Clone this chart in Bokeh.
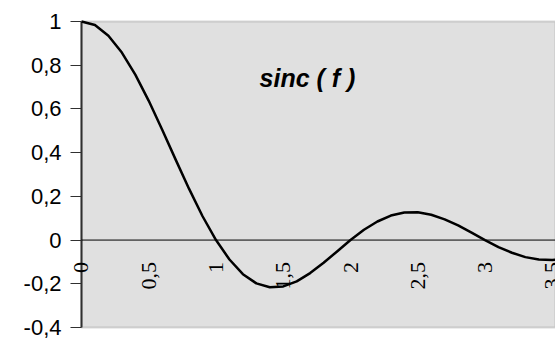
from bokeh.plotting import figure
from bokeh.models import Range1d, FixedTicker, Label, LabelSet, ColumnDataSource, BoxAnnotation
from bokeh.embed import file_html
from bokeh.resources import INLINE
import math

# sampled values of the sinc curve
f_values = [0.0, 0.1, 0.2, 0.3, 0.4, 0.5, 0.6, 0.7, 0.8, 0.9,
            1.0, 1.1, 1.2, 1.3, 1.4, 1.5, 1.6, 1.7, 1.8, 1.9,
            2.0, 2.1, 2.2, 2.3, 2.4, 2.5, 2.6, 2.7, 2.8, 2.9,
            3.0, 3.1, 3.2, 3.3, 3.4, 3.5, 3.6]
sinc_values = [1.0, 0.984, 0.935, 0.858, 0.757, 0.637, 0.505, 0.368, 0.234, 0.109,
               0.0, -0.089, -0.156, -0.198, -0.216, -0.212, -0.189, -0.151, -0.104, -0.052,
               0.0, 0.047, 0.085, 0.112, 0.126, 0.127, 0.116, 0.095, 0.067, 0.034,
               0.0, -0.032, -0.058, -0.078, -0.089, -0.091, -0.084]

x_ticks = [0, 0.5, 1, 1.5, 2, 2.5, 3, 3.5]
x_tick_labels = ["0", "0,5", "1", "1,5", "2", "2,5", "3", "3,5"]
y_ticks = [-0.4, -0.2, 0, 0.2, 0.4, 0.6, 0.8, 1]
y_tick_labels = ["-0,4", "-0,2", "0", "0,2", "0,4", "0,6", "0,8", "1"]

FONT = "Liberation Sans"
Y_MIN, Y_MAX = -0.4, 1.0
X_MIN, X_MAX = 0.0, 3.6

# the frame is a little larger than the plotting area so that the
# first vertical label and the border lines are not clipped
p = figure(width=555, height=338, output_backend="svg", toolbar_location=None,
           x_range=Range1d(-0.0818, 3.524), y_range=Range1d(-0.4137, 1.0137),
           x_axis_location=None, min_border_left=70, min_border_top=18,
           min_border_bottom=8, min_border_right=0)

p.background_fill_color = "white"
p.border_fill_color = "white"
p.outline_line_color = None
p.xgrid.visible = False
p.ygrid.visible = False

# grey plotting area with its border
p.add_layout(BoxAnnotation(left=X_MIN, bottom=Y_MIN, top=Y_MAX,
                           fill_color="#E0E0E0", fill_alpha=1.0,
                           line_color="#808080", line_width=2, level="underlay"))

ax = p.yaxis[0]
ax.ticker = FixedTicker(ticks=y_ticks)
ax.major_label_overrides = dict(zip(y_ticks, y_tick_labels))
ax.major_label_text_font = FONT
ax.major_label_text_font_size = "22px"
ax.major_label_text_color = "black"
ax.axis_line_color = None
ax.major_tick_line_color = "#303030"
ax.major_tick_line_width = 1
ax.major_tick_in = 11
ax.major_tick_out = 0
ax.minor_tick_line_color = None
ax.major_label_standoff = 9

# vertical value axis line and the zero line
p.segment(x0=[X_MIN], y0=[Y_MIN], x1=[X_MIN], y1=[Y_MAX], line_color="#303030", line_width=2)
p.segment(x0=[X_MIN], y0=[0], x1=[X_MAX], y1=[0], line_color="black", line_width=1)

p.line(f_values, sinc_values, line_color="black", line_width=2.5, line_join="round")

# vertical category labels hanging below the zero line
lbl_src = ColumnDataSource(dict(x=x_ticks, y=[0] * len(x_ticks), t=x_tick_labels))
p.add_layout(LabelSet(x="x", y="y", text="t", source=lbl_src, angle=math.pi / 2,
                      text_align="right", text_baseline="middle", y_offset=-22,
                      text_font=FONT, text_font_size="22px", text_color="black"))

p.add_layout(Label(x=1.68, y=0.74, text="sinc ( f )", text_align="center",
                   text_baseline="alphabetic", text_font=FONT,
                   text_font_size="25px", text_font_style="bold italic",
                   text_color="black"))

open("out.html", "w").write(file_html(p, INLINE))
